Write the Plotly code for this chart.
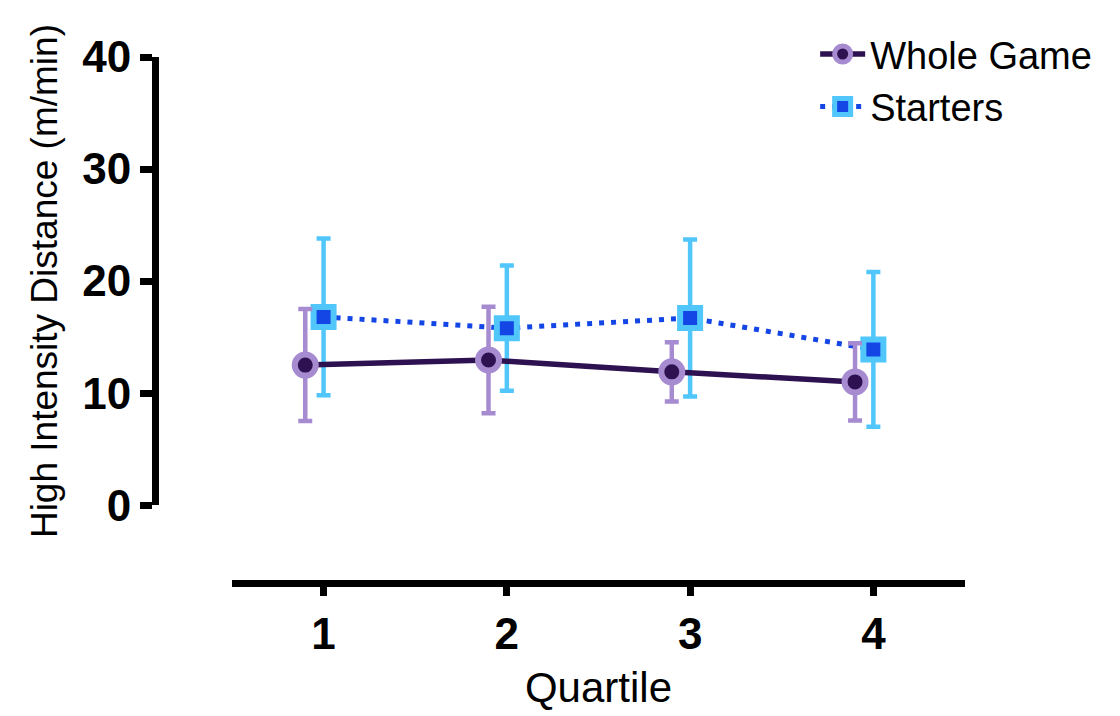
import plotly.graph_objects as go

# Data
quartiles = [1, 2, 3, 4]
tick_labels = ["1", "2", "3", "4"]
whole_mean = [12.5, 12.95, 11.9, 11.0]
whole_sd = [5.0, 4.75, 2.65, 3.45]
starters_mean = [16.8, 15.8, 16.7, 13.9]
starters_sd = [7.0, 5.6, 7.0, 6.9]

FONT = "Arial, 'Liberation Sans', Helvetica, sans-serif"
DARK = "#2E1150"
PURPLE = "#A78BD1"
BLUE = "#1446E6"
CYAN = "#50C6FA"
OFFSET = 0.1

fig = go.Figure()

fig.add_trace(go.Scatter(
    x=quartiles, y=starters_mean, name="Starters",
    mode="lines+markers",
    line=dict(color=BLUE, width=5, dash="5px,7px"),
    marker=dict(symbol="square", size=20, color=BLUE, line=dict(color=CYAN, width=6)),
    error_y=dict(type="data", array=starters_sd, visible=True, color=CYAN, thickness=4.5, width=7),
))
fig.add_trace(go.Scatter(
    x=[q - OFFSET for q in quartiles], y=whole_mean, name="Whole Game",
    mode="lines+markers",
    line=dict(color=DARK, width=5.5),
    marker=dict(symbol="circle", size=21, color=DARK, line=dict(color=PURPLE, width=6)),
    error_y=dict(type="data", array=whole_sd, visible=True, color=PURPLE, thickness=4.5, width=7),
))

fig.update_layout(
    width=1120, height=716,
    margin=dict(l=147, r=163, t=49, b=141),
    paper_bgcolor="white", plot_bgcolor="white",
    font=dict(family=FONT, color="black"),
    showlegend=True,
    legend=dict(
        x=0.815, y=1.065, xanchor="left", yanchor="top",
        traceorder="reversed",
        font=dict(size=38, family=FONT, color="black"),
        bgcolor="rgba(0,0,0,0)",
        itemwidth=45,
    ),
    xaxis=dict(
        domain=[0.095, 1.0],
        anchor="free", position=0,
        range=[0.5, 4.5],
        tickvals=quartiles, ticktext=tick_labels,
        showline=True, linecolor="black", linewidth=7,
        ticks="outside", ticklen=9, tickwidth=7, tickcolor="black",
        tickfont=dict(size=44, family=FONT, color="black", weight="bold"),
        showgrid=False, zeroline=False,
        title=dict(text="Quartile", font=dict(size=42, family=FONT, color="black"), standoff=15),
    ),
    yaxis=dict(
        domain=[0.148, 1.0],
        anchor="free", position=0,
        range=[0, 40],
        tickvals=[0, 10, 20, 30, 40],
        showline=True, linecolor="black", linewidth=7,
        ticks="outside", ticklen=12, tickwidth=7, tickcolor="black",
        tickfont=dict(size=44, family=FONT, color="black", weight="bold"),
        showgrid=False, zeroline=False,
        title=dict(text="High Intensity Distance (m/min)", font=dict(size=37, family=FONT, color="black"), standoff=12),
    ),
)

fig.write_html("out.html")
